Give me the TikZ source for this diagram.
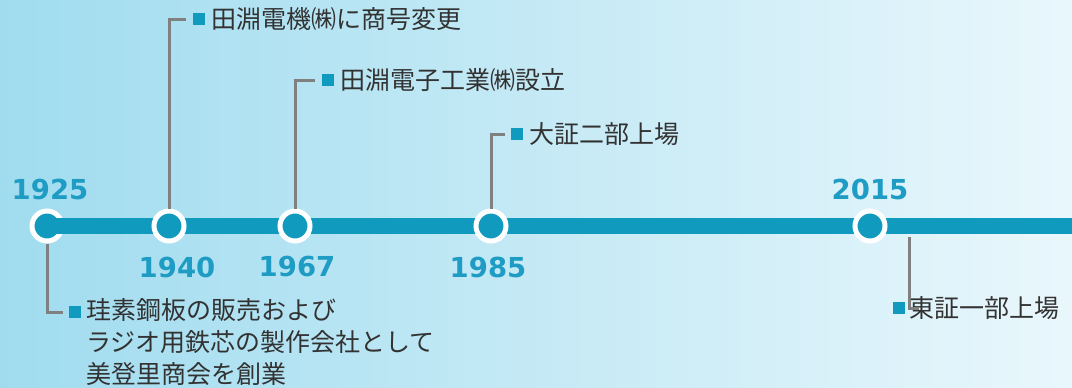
\documentclass[tikz,border=0pt]{standalone}
\usepackage{fontspec}
\newfontfamily\jpfont{Noto Sans CJK JP}
\newfontfamily\yearfont{DejaVu Sans}
\usetikzlibrary{positioning,calc}
\definecolor{tlBlue}{RGB}{16,154,190}
\definecolor{yearBlue}{RGB}{30,156,196}
\definecolor{leadGray}{RGB}{128,128,128}
\definecolor{txtGray}{RGB}{50,50,50}
\definecolor{bgLeft}{RGB}{160,220,239}
\definecolor{bgRight}{RGB}{233,247,252}
\tikzset{bar/.style={line width=16.5pt,color=tlBlue},
		milestone/.style={circle,fill=tlBlue,draw=white,line width=5pt,minimum size=30pt,inner sep=0pt},
		yearLabel/.style={font=\yearfont\bfseries\fontsize{27.5}{30}\selectfont,text=yearBlue,inner sep=0pt},
		leader/.style={line width=3pt,color=leadGray},
		bullet/.style={rectangle,fill=tlBlue,minimum size=12pt,inner sep=0pt},
		eventText/.style={font=\jpfont\fontsize{25}{32}\selectfont,text=txtGray,inner sep=0pt,align=left}}
\begin{document}
\begin{tikzpicture}[x=1pt,y=-1pt]
\shade[left color=bgLeft,right color=bgRight] (0,0) rectangle (1072,388);
\useasboundingbox (0,0) rectangle (1072,388);
% timeline
\coordinate (tlEnd) at (1072,226);
\node[milestone] (m1925) at (47,226) {};
\draw[bar] (m1925.center) -- (tlEnd);
\node[milestone] (m1940) at (169,226) {};
\node[milestone] (m1967) at (295,226) {};
\node[milestone] (m1985) at (491,226) {};
\node[milestone] (m2015) at (870,226) {};
% years
\node[yearLabel] (y1925) at (50,189) {1925};
\node[yearLabel] (y1940) at (177,267) {1940};
\node[yearLabel] (y1967) at (297,267) {1967};
\node[yearLabel] (y1985) at (488,267) {1985};
\node[yearLabel] (y2015) at (870,189) {2015};
% events
\node[bullet] (b1925) at (75,312) {};
\node[eventText,anchor=north west] (e1925) at (86,298) {珪素鋼板の販売および\\ラジオ用鉄芯の製作会社として\\美登里商会を創業};
\node[bullet] (b1940) at (199,19) {};
\node[eventText,right=6pt of b1940] (e1940) {田淵電機㈱に商号変更};
\node[bullet] (b1967) at (328,80) {};
\node[eventText,right=6pt of b1967] (e1967) {田淵電子工業㈱設立};
\node[bullet] (b1985) at (517,134) {};
\node[eventText,right=6pt of b1985] (e1985) {大証二部上場};
\node[bullet] (b2015) at (899,308) {};
\node[eventText,right=4pt of b2015] (e2015) {東証一部上場};
% leaders
\draw[leader] (m1925.south) |- ([xshift=-6pt]b1925.west);
\draw[leader] (m1940.north) |- ([xshift=-7pt]b1940.west);
\draw[leader] (m1967.north) |- ([xshift=-7pt]b1967.west);
\draw[leader] (m1985.north) |- ([xshift=-6pt]b1985.west);
\coordinate (c2015) at (909,237);
\draw[leader] (c2015) |- ([xshift=10pt]e2015.west);
\end{tikzpicture}
\end{document}
